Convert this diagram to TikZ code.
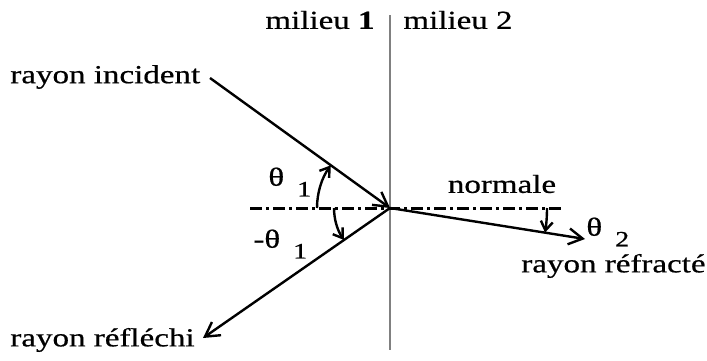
\documentclass[tikz,border=0pt]{standalone}
\usepackage{fontspec}
\setmainfont[FakeStretch=1.27,FakeBold=0.6]{Liberation Serif}
\usetikzlibrary{arrows.meta}
\begin{document}
\begin{tikzpicture}[x=0.5pt,y=0.5pt,
 ray/.style={line width=1.2pt, -{Straight Barb[length=7pt,width=8pt]}},
 angarrow/.style={line width=1.2pt, -{Straight Barb[length=4.5pt,width=6pt]}},
 normalline/.style={line width=1.5pt, dash pattern=on 6pt off 2pt on 1.5pt off 2pt},
 interface/.style={draw=gray, line width=1.1pt},
 lbl/.style={inner sep=0pt, font=\fontsize{13}{15}\selectfont}]
\useasboundingbox (0,0) rectangle (707,360);
\coordinate (O) at (390,152);
\coordinate (top) at (390,345);
\coordinate (bot) at (390,10);
\coordinate (inc) at (210,282);
\coordinate (refl) at (203,22);
\coordinate (refr) at (585,121);
\coordinate (nl) at (250,152);
\coordinate (nr) at (563,152);
\draw[interface] (top) -- (bot);
\draw[normalline] (nl) -- (nr);
\draw[ray] (inc) -- (O);
\draw[ray] (O) -- (refl);
\draw[ray] (O) -- (refr);
\draw[angarrow] (O) ++(180:73) arc[start angle=180,end angle=144.2,radius=73];
\draw[angarrow] (O) ++(180:56) arc[start angle=180,end angle=214.8,radius=56];
\draw[angarrow] (O) ++(0:157) arc[start angle=0,end angle=-9,radius=157];
\node[lbl] (m1) at (320,340) {milieu \textbf{1}};
\node[lbl] (m2) at (458,340) {milieu 2};
\node[lbl, anchor=west] (li) at (10,283) {rayon incident};
\node[lbl, anchor=west] (lr) at (10,20) {rayon réfléchi};
\node[lbl, anchor=east] (lf) at (706,94) {rayon réfracté};
\node[lbl] (ln) at (502,176) {normale};
\node[lbl, anchor=west] (t1) at (268,178) {θ\hspace{0.5em}\raisebox{-0.9ex}{\fontsize{11}{12}\selectfont 1}};
\node[lbl, anchor=west] (t1m) at (253,116) {-θ\hspace{0.5em}\raisebox{-0.9ex}{\fontsize{11}{12}\selectfont 1}};
\node[lbl, anchor=west] (t2) at (586,128) {θ\hspace{0.5em}\raisebox{-0.9ex}{\fontsize{11}{12}\selectfont 2}};
\end{tikzpicture}
\end{document}
